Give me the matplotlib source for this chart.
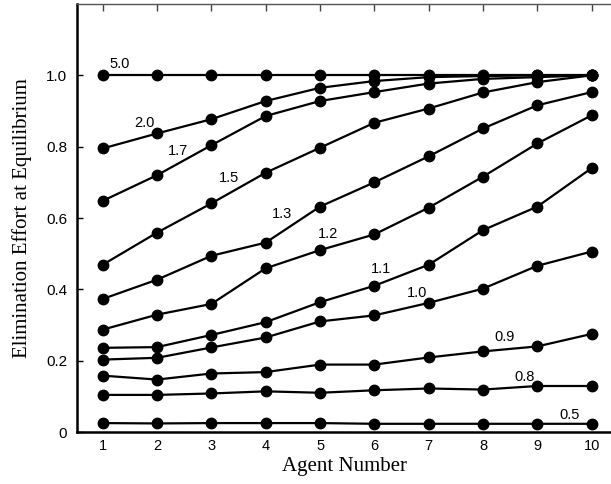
import matplotlib
matplotlib.use("Agg")
import matplotlib.pyplot as plt

agents = [1, 2, 3, 4, 5, 6, 7, 8, 9, 10]

series_labels = ["5.0", "2.0", "1.7", "1.5", "1.3", "1.2", "1.1", "1.0", "0.9", "0.8", "0.5"]
s_5_0 = [1.0, 1.0, 1.0, 1.0, 1.0, 1.0, 1.0, 1.0, 1.0, 1.0]
s_2_0 = [0.795, 0.837, 0.877, 0.928, 0.965, 0.984, 0.995, 0.998, 1.0, 1.0]
s_1_7 = [0.648, 0.720, 0.804, 0.886, 0.928, 0.953, 0.977, 0.990, 0.995, 1.0]
s_1_5 = [0.469, 0.559, 0.641, 0.727, 0.797, 0.867, 0.907, 0.952, 0.981, 1.0]
s_1_3 = [0.373, 0.427, 0.494, 0.531, 0.632, 0.700, 0.773, 0.851, 0.916, 0.953]
s_1_2 = [0.287, 0.329, 0.359, 0.459, 0.510, 0.554, 0.629, 0.716, 0.809, 0.888]
s_1_1 = [0.236, 0.238, 0.272, 0.308, 0.364, 0.410, 0.469, 0.566, 0.632, 0.740]
s_1_0 = [0.203, 0.208, 0.237, 0.265, 0.310, 0.327, 0.362, 0.402, 0.466, 0.506]
s_0_9 = [0.158, 0.147, 0.164, 0.168, 0.189, 0.189, 0.209, 0.226, 0.240, 0.275]
s_0_8 = [0.104, 0.104, 0.108, 0.114, 0.110, 0.117, 0.122, 0.119, 0.129, 0.129]
s_0_5 = [0.025, 0.024, 0.025, 0.025, 0.025, 0.023, 0.023, 0.023, 0.023, 0.023]
all_series = [s_5_0, s_2_0, s_1_7, s_1_5, s_1_3, s_1_2, s_1_1, s_1_0, s_0_9, s_0_8, s_0_5]

# annotation anchor positions (data coords) for each series label
label_x = [1.31, 1.76, 2.39, 3.32, 4.30, 5.14, 6.12, 6.78, 8.39, 8.76, 9.59]
label_y = [1.031, 0.867, 0.788, 0.711, 0.611, 0.555, 0.457, 0.391, 0.265, 0.153, 0.049]

y_ticks = [0, 0.2, 0.4, 0.6, 0.8, 1.0]
y_ticklabels = ["0", "0.2", "0.4", "0.6", "0.8", "1.0"]

fig = plt.figure(figsize=(6.11, 4.84), dpi=100)
ax = fig.add_axes([77/611, 52/484, 1 - 77/611, 428/484])

for vals in all_series:
    ax.plot(agents, vals, color="black", linewidth=1.6, marker="o",
            markersize=7.5, markerfacecolor="black", markeredgecolor="black",
            clip_on=False, zorder=3)

for lab, lx, ly in zip(series_labels, label_x, label_y):
    ax.text(lx, ly, lab, fontsize=10.5, family="Liberation Sans",
            ha="center", va="center", zorder=4)

ax.set_xlim(0.527, 10.355)
ax.set_ylim(0, 1.2)
ax.set_xticks(agents)
ax.set_xticklabels([str(a) for a in agents], family="Liberation Sans", fontsize=10.5)
ax.set_yticks(y_ticks)
ax.set_yticklabels(y_ticklabels, family="Liberation Sans", fontsize=11)

ax.tick_params(axis="x", which="both", direction="in", bottom=False, top=True,
               length=5, width=1, pad=5, color="#444444")
ax.tick_params(axis="y", which="both", direction="in", left=True, right=False,
               length=4, width=1, pad=7)

ax.spines["right"].set_visible(False)
ax.spines["left"].set_linewidth(1.8)
ax.spines["bottom"].set_linewidth(1.8)
ax.spines["top"].set_linewidth(1.0)
ax.spines["top"].set_color("#555555")

ax.set_xlabel("Agent Number", family="Liberation Serif", fontsize=15, labelpad=3)
ax.set_ylabel("Elimination Effort at Equilibrium", family="Liberation Serif",
              fontsize=15, labelpad=10)

fig.savefig("out.png", dpi=100)
